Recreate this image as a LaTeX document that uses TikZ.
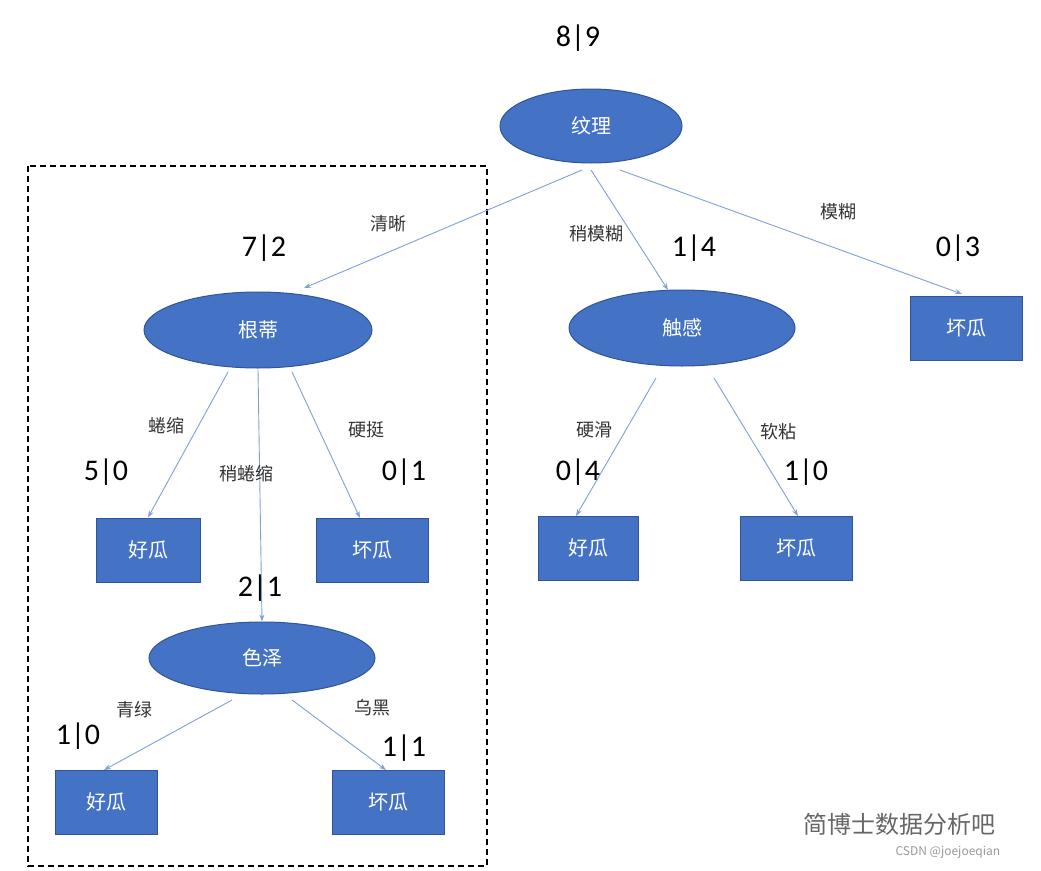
\documentclass[tikz,border=0pt]{standalone}
\usepackage{fontspec}
\setmainfont{Noto Sans CJK SC}
\newfontfamily\numfont{Carlito}
\usetikzlibrary{shapes.geometric,arrows.meta}
\definecolor{nb}{HTML}{4472C4}
\definecolor{nbd}{HTML}{2F5597}
\definecolor{ln}{HTML}{7F9FD6}
\tikzset{
 ell/.style={ellipse,fill=nb,draw=nbd,line width=1pt,text=white,font=\fontsize{20}{24}\selectfont,inner sep=0pt},
 box/.style={rectangle,fill=nb,draw=nbd,line width=1pt,text=white,font=\fontsize{20}{24}\selectfont,inner sep=0pt},
 cnt/.style={font=\numfont\fontsize{30}{34}\selectfont},
 lab/.style={font=\fontsize{18}{22}\selectfont,text=black!80},
 edge/.style={draw=ln,line width=0.9pt,-{Stealth[length=7pt,width=5pt]}},
}
\begin{document}
\begin{tikzpicture}[x=1pt,y=-1pt]
\useasboundingbox (0,0) rectangle (1041,870);
\draw[dash pattern=on 6pt off 4pt,line width=1.2pt] (28,166) rectangle (487,866);
\node[ell,minimum width=182pt,minimum height=74pt] (root) at (591,126) {纹理};
\node[ell,minimum width=228pt,minimum height=76pt] (gd) at (258,330) {根蒂};
\node[ell,minimum width=226pt,minimum height=76pt] (cg) at (682,328) {触感};
\node[ell,minimum width=226pt,minimum height=72pt] (sz) at (262,658) {色泽};
\node[box,minimum width=112pt,minimum height=64pt] (b1) at (966,328) {坏瓜};
\node[box,minimum width=104pt,minimum height=64pt] (g1) at (148,550) {好瓜};
\node[box,minimum width=112pt,minimum height=64pt] (b2) at (372,550) {坏瓜};
\node[box,minimum width=100pt,minimum height=64pt] (g2) at (588,548) {好瓜};
\node[box,minimum width=112pt,minimum height=64pt] (b3) at (796,548) {坏瓜};
\node[box,minimum width=102pt,minimum height=64pt] (g3) at (106,802) {好瓜};
\node[box,minimum width=112pt,minimum height=64pt] (b4) at (388,802) {坏瓜};
\coordinate (r1) at (582,170); \coordinate (r2) at (591,170); \coordinate (r3) at (620,170);
\coordinate (t1) at (304,288); \coordinate (t2) at (668,290); \coordinate (t3) at (962,294);
\draw[edge] (r1) -- (t1);
\draw[edge] (r2) -- (t2);
\draw[edge] (r3) -- (t3);
\coordinate (ga) at (228,372); \coordinate (gb) at (258,370); \coordinate (gc) at (292,372);
\draw[edge] (ga) -- (g1.north);
\draw[edge] (gb) -- (sz.north);
\coordinate (b2t) at (360,518);
\draw[edge] (gc) -- (b2t);
\coordinate (ca) at (656,378); \coordinate (cb) at (714,378);
\coordinate (g2t) at (576,516); \coordinate (b3t) at (798,516);
\draw[edge] (ca) -- (g2t);
\draw[edge] (cb) -- (b3t);
\coordinate (sa) at (232,700); \coordinate (sb) at (292,700);
\coordinate (g3t) at (104,770); \coordinate (b4t) at (386,770);
\draw[edge] (sa) -- (g3t);
\draw[edge] (sb) -- (b4t);
\node[cnt] (c0) at (578,38) {8|9};
\node[cnt] (c1) at (264,248) {7|2};
\node[cnt] (c2) at (694,248) {1|4};
\node[cnt] (c3) at (958,248) {0|3};
\node[cnt] (c4) at (106,472) {5|0};
\node[cnt] (c5) at (404,472) {0|1};
\node[cnt] (c6) at (260,588) {2|1};
\node[cnt] (c7) at (78,736) {1|0};
\node[cnt] (c8) at (404,748) {1|1};
\node[cnt] (c9) at (578,472) {0|4};
\node[cnt] (c10) at (806,472) {1|0};
\node[lab] (l1) at (388,224) {清晰};
\node[lab] (l2) at (596,234) {稍模糊};
\node[lab] (l3) at (838,212) {模糊};
\node[lab] (l4) at (166,426) {蜷缩};
\node[lab] (l5) at (246,474) {稍蜷缩};
\node[lab] (l6) at (366,430) {硬挺};
\node[lab] (l7) at (594,430) {硬滑};
\node[lab] (l8) at (778,432) {软粘};
\node[lab] (l9) at (134,710) {青绿};
\node[lab] (l10) at (372,708) {乌黑};
\node[font=\fontsize{24}{28}\selectfont,text=black!60,anchor=west] (wm) at (800,824) {简博士数据分析吧};
\node[font=\fontsize{12}{14}\selectfont,text=black!40,anchor=west] (wm2) at (892,852) {CSDN @joejoeqian};
\end{tikzpicture}
\end{document}
